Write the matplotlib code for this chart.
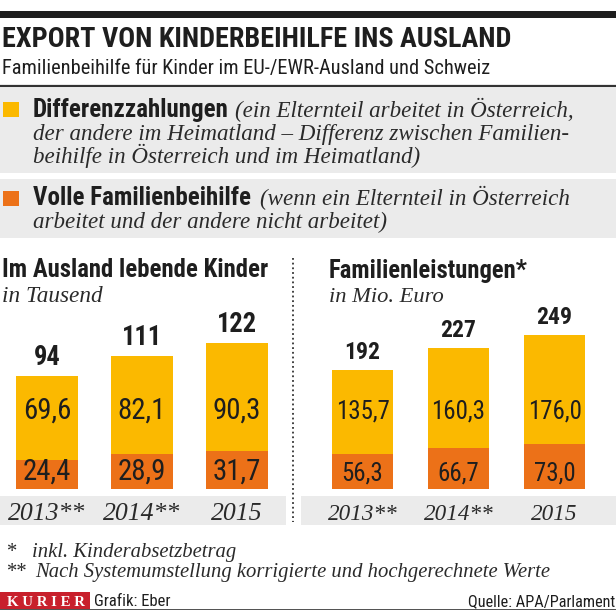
import matplotlib
matplotlib.use("Agg")
import matplotlib.pyplot as plt
from matplotlib import font_manager as fm
from matplotlib.patches import Rectangle

# ---------------- data ----------------
years = ["2013**", "2014**", "2015"]
kinder_diff = [69.6, 82.1, 90.3]
kinder_voll = [24.4, 28.9, 31.7]
kinder_total = [94, 111, 122]
geld_diff = [135.7, 160.3, 176.0]
geld_voll = [56.3, 66.7, 73.0]
geld_total = [192, 227, 249]

title = "EXPORT VON KINDERBEIHILFE INS AUSLAND"
subtitle = "Familienbeihilfe für Kinder im EU-/EWR-Ausland und Schweiz"
leg1_bold = "Differenzzahlungen"
leg1_lines = ["(ein Elternteil arbeitet in Österreich,",
              "der andere im Heimatland – Differenz zwischen Familien-",
              "beihilfe in Österreich und im Heimatland)"]
leg2_bold = "Volle Familienbeihilfe"
leg2_lines = ["(wenn ein Elternteil in Österreich",
              "arbeitet und der andere nicht arbeitet)"]
panel1_title, panel1_unit = "Im Ausland lebende Kinder", "in Tausend"
panel2_title, panel2_unit = "Familienleistungen*", "in Mio. Euro"
foot1 = "inkl. Kinderabsetzbetrag"
foot2 = "Nach Systemumstellung korrigierte und hochgerechnete Werte"

YELLOW = "#FBB900"
ORANGE = "#EC7118"
GRAY = "#ebebeb"
DARK = "#1e1e1e"
RED = "#c8202c"

# ---------------- fonts ----------------
entries = fm.fontManager.ttflist
names = {f.name for f in entries}
COND = None
for cand in ["Roboto Condensed", "Liberation Sans Narrow", "Open Sans Condensed"]:
    if cand in names:
        COND = dict(family=cand)
        break
if COND is None:
    if any(f.name == "DejaVu Sans" and f.stretch == "condensed" for f in entries):
        COND = dict(family="DejaVu Sans", fontstretch="condensed")
    else:
        COND = dict(family="Roboto" if "Roboto" in names else "DejaVu Sans")
SERIF = "Liberation Serif" if "Liberation Serif" in names else "DejaVu Serif"

W, H = 616, 610
fig = plt.figure(figsize=(W / 100, H / 100), dpi=100)
bg = fig.add_axes([0, 0, 1, 1])
bg.set_xlim(0, W)
bg.set_ylim(H, 0)
bg.axis("off")
R = fig.canvas.get_renderer()


def size_for(s, width, **kw):
    t = bg.text(0, 0, s, fontsize=10, **kw)
    w = t.get_window_extent(R).width
    t.remove()
    return 10 * width / w


def fit(x, y, s, width, ha="left", color=DARK, **kw):
    fs = size_for(s, width, **kw)
    return bg.text(x, y, s, fontsize=fs, ha=ha, va="baseline", color=color, **kw)


def rect(x0, y0, x1, y1, color):
    bg.add_patch(Rectangle((x0, y0), x1 - x0, y1 - y0, color=color, lw=0, zorder=0))


# header
rect(0, 11, W, 17.5, DARK)
fit(2, 47, title, 506, fontweight="bold", **COND)
fit(2, 74, subtitle, 484, **COND)
bg.plot([0, W], [85.5, 85.5], color="#333333", lw=1.6)

# legend blocks
rect(0, 87.5, W, 173, GRAY)
rect(0, 179, W, 238, GRAY)
rect(3, 102, 19, 117, YELLOW)
rect(3, 191, 19, 206, ORANGE)

bold_fs = size_for(leg1_bold, 195, fontweight="bold", **COND)
ital_fs = size_for(leg1_lines[1], 537, family=SERIF, style="italic")
ITAL = dict(fontsize=ital_fs, family=SERIF, style="italic", va="baseline", color="#2a2a2a")
bg.text(33, 117, leg1_bold, fontsize=bold_fs, fontweight="bold", va="baseline", color=DARK, **COND)
bg.text(235, 117, leg1_lines[0], **ITAL)
bg.text(33, 140, leg1_lines[1], **ITAL)
bg.text(33, 163, leg1_lines[2], **ITAL)
bg.text(33, 205, leg2_bold, fontsize=bold_fs, fontweight="bold", va="baseline", color=DARK, **COND)
bg.text(260, 205, leg2_lines[0], **ITAL)
bg.text(33, 228, leg2_lines[1], **ITAL)

# panel titles
fit(2, 277, panel1_title, 266, fontweight="bold", **COND)
fit(2, 302, panel1_unit, 101, family=SERIF, style="italic", color="#2a2a2a")
fit(329, 278, panel2_title, 199, fontweight="bold", **COND)
fit(329, 302, panel2_unit, 115, family=SERIF, style="italic", color="#2a2a2a")

# dotted divider
bg.plot([293, 293], [258, 522], color="#333333", lw=1.3, ls=(0, (1, 1.6)))

# year bands
rect(0, 496, 286, 525, GRAY)
rect(301, 496, W, 525, GRAY)

# footnotes
foot_fs = size_for(foot2, 515, family=SERIF, style="italic")
FOOT = dict(fontsize=foot_fs, family=SERIF, style="italic", va="baseline", color="#2a2a2a")
bg.text(5, 557, "*", **FOOT)
bg.text(5, 577, "**", **FOOT)
bg.text(32, 557, foot1, **FOOT)
bg.text(35, 577, foot2, **FOOT)

# bottom strip
rect(0, 592, 90, 609, RED)
fit(46, 606.5, "K U R I E R", 78, ha="center", color="white", family=SERIF, fontweight="bold")
fit(94, 606, "Grafik: Eber", 76, **COND)
fit(615, 606, "Quelle: APA/Parlament", 147, ha="right", **COND)
bg.plot([0, W], [609.5, 609.5], color="#333333", lw=1.2)


def panel(x_left, x_right, centers_px, bar_w_px, scale, diff, voll, total,
          val_w_ref, tot_w_ref, year_w_ref):
    base_px = 489
    top_px = 250
    spacing = centers_px[1] - centers_px[0]
    ax = fig.add_axes([x_left / W, (H - base_px) / H, (x_right - x_left) / W, (base_px - top_px) / H])
    ax.patch.set_alpha(0)
    ax.axis("off")
    ax.set_xlim(-(centers_px[0] - x_left) / spacing, (x_right - centers_px[0]) / spacing)
    ax.set_ylim(0, (base_px - top_px) / scale)
    xs = list(range(len(years)))
    bw = bar_w_px / spacing
    ax.bar(xs, voll, width=bw, color=ORANGE, lw=0)
    ax.bar(xs, diff, bottom=voll, width=bw, color=YELLOW, lw=0)
    vfs = size_for(val_w_ref[0], val_w_ref[1], **COND)
    tfs = size_for(tot_w_ref[0], tot_w_ref[1], fontweight="bold", **COND)
    yfs = size_for(year_w_ref[0], year_w_ref[1], family=SERIF, style="italic")
    fmt = lambda v: f"{v:.1f}".replace(".", ",")
    for i in xs:
        ax.annotate(fmt(diff[i]), (i, 0), xytext=(0, 70 * 0.72), textcoords="offset points",
                    ha="center", va="baseline", fontsize=vfs, color=DARK, **COND)
        ax.annotate(fmt(voll[i]), (i, 0), xytext=(0, 9 * 0.72), textcoords="offset points",
                    ha="center", va="baseline", fontsize=vfs, color=DARK, **COND)
        ax.annotate(str(total[i]), (i, voll[i] + diff[i]), xytext=(0, 11 * 0.72),
                    textcoords="offset points", ha="center", va="baseline",
                    fontsize=tfs, fontweight="bold", color=DARK, **COND)
        ax.annotate(years[i], (i, 0), xytext=(0, -31 * 0.72), textcoords="offset points",
                    ha="center", va="baseline", fontsize=yfs, family=SERIF,
                    style="italic", color="#2a2a2a", annotation_clip=False)
    return ax


panel(0, 293, [47, 142, 236], 62, 1.2, kinder_diff, kinder_voll, kinder_total,
      ("69,6", 48), ("94", 27), ("2013**", 78))
panel(300, 616, [362.5, 458.5, 553.5], 61, 0.62, geld_diff, geld_voll, geld_total,
      ("135,7", 54), ("192", 36), ("2013**", 70))

fig.savefig("out.png", dpi=100)
